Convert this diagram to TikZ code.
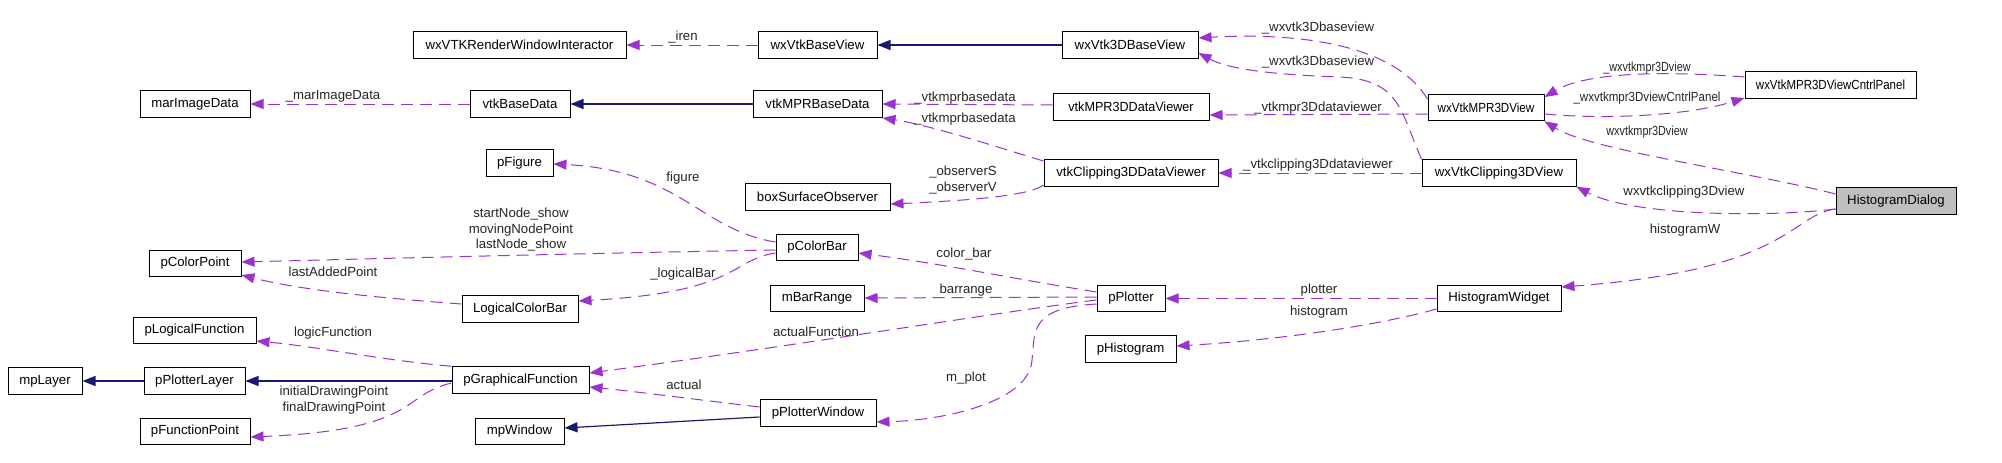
\documentclass[tikz,border=0pt]{standalone}
\usepackage{fontspec}
\usepackage{graphicx}
\setmainfont{Liberation Sans}
\usetikzlibrary{arrows.meta,calc}
\definecolor{usecol}{HTML}{9A32CD}
\definecolor{inhcol}{HTML}{191970}
\newcommand{\sqz}[2]{\scalebox{#1}[1]{#2}}
\begin{document}
\begin{tikzpicture}[x=1pt,y=-1pt,
  cls/.style={draw=black, line width=1pt, fill=white, minimum height=26.5pt, inner sep=0pt, font=\fontsize{13.2}{15.5}\selectfont},
  usage/.style={draw=usecol, line width=1pt, dash pattern=on 12pt off 7pt, -{Triangle[length=13pt,width=10pt]}},
  inher/.style={draw=inhcol, line width=1.2pt, -{Triangle[length=13pt,width=10pt]}},
  lbl/.style={font=\fontsize{13.2}{15.5}\selectfont, inner sep=0pt, text=black!85, align=center}]
\useasboundingbox[fill=white] (0,0) rectangle (2002,463);

% nodes
\node[cls,minimum width=110pt] (marImageData) at (195,104) {marImageData};
\node[cls,minimum width=100pt] (vtkBaseData) at (520,104) {vtkBaseData};
\node[cls,minimum width=129pt] (vtkMPRBaseData) at (817.5,104) {vtkMPRBaseData};
\node[cls,minimum width=213pt] (wxVTKRWI) at (519.5,45) {wxVTKRenderWindowInteractor};
\node[cls,minimum width=119pt] (wxVtkBaseView) at (817.5,45) {wxVtkBaseView};
\node[cls,minimum width=136pt] (wxVtk3DBaseView) at (1130,45) {wxVtk3DBaseView};
\node[cls,minimum width=156pt] (vtkMPR3DDataViewer) at (1131,107) {\sqz{0.955}{vtkMPR3DDataViewer}};
\node[cls,minimum width=116pt] (wxVtkMPR3DView) at (1486,107.5) {\sqz{0.88}{wxVtkMPR3DView}};
\node[cls,minimum width=171pt] (CntrlPanel) at (1830.5,85) {\sqz{0.87}{wxVtkMPR3DViewCntrlPanel}};
\node[cls,minimum width=67pt] (pFigure) at (519.5,163) {pFigure};
\node[cls,minimum width=145pt] (boxSurfaceObserver) at (817.5,197) {boxSurfaceObserver};
\node[cls,minimum width=174pt] (vtkClipping3DDataViewer) at (1131,173) {vtkClipping3DDataViewer};
\node[cls,minimum width=154pt] (wxVtkClipping3DView) at (1499,173) {wxVtkClipping3DView};
\node[cls,minimum width=120pt,fill=black!25] (HistogramDialog) at (1896,201) {HistogramDialog};
\node[cls,minimum width=92pt] (pColorPoint) at (195,263.5) {pColorPoint};
\node[cls,minimum width=82pt] (pColorBar) at (817,247.5) {pColorBar};
\node[cls,minimum width=116pt] (LogicalColorBar) at (520,309) {LogicalColorBar};
\node[cls,minimum width=94pt] (mBarRange) at (817,298.5) {mBarRange};
\node[cls,minimum width=68pt] (pPlotter) at (1131,298.5) {pPlotter};
\node[cls,minimum width=124pt] (HistogramWidget) at (1499,298.5) {HistogramWidget};
\node[cls,minimum width=91pt] (pHistogram) at (1130.5,349) {pHistogram};
\node[cls,minimum width=123pt] (pLogicalFunction) at (194.5,330.5) {pLogicalFunction};
\node[cls,minimum width=74pt] (mpLayer) at (45,381) {mpLayer};
\node[cls,minimum width=101pt] (pPlotterLayer) at (194.5,381) {pPlotterLayer};
\node[cls,minimum width=110pt] (pFunctionPoint) at (195,431.5) {pFunctionPoint};
\node[cls,minimum width=137pt] (pGraphicalFunction) at (520.5,380) {pGraphicalFunction};
\node[cls,minimum width=89pt] (mpWindow) at (519.5,431.5) {mpWindow};
\node[cls,minimum width=116pt] (pPlotterWindow) at (818,413) {pPlotterWindow};

% inheritance
\draw[inher] (wxVtk3DBaseView.west) -- (wxVtkBaseView.east);
\draw[inher] (vtkMPRBaseData.west) -- (vtkBaseData.east);
\draw[inher] (pPlotterLayer.west) -- (mpLayer.east);
\draw[inher] (pGraphicalFunction.west |- 0,381) -- (pPlotterLayer.east);
\draw[inher] (pPlotterWindow.west |- 0,417) -- (mpWindow.east |- 0,428);

% usage
\draw[usage] (wxVtkBaseView.west) -- (wxVTKRWI.east);
\draw[usage] (vtkBaseData.west) -- (marImageData.east);
\draw[usage] (vtkMPR3DDataViewer.west |- 0,105) -- (vtkMPRBaseData.east);
\draw[usage] (vtkClipping3DDataViewer.north west |- 0,161) .. controls (1000,148) and (930,125) .. (vtkMPRBaseData.south east |- 0,118);
\draw[usage] (wxVtkMPR3DView.north west |- 0,99) .. controls (1395,45) and (1300,32) .. (wxVtk3DBaseView.east |- 0,38);
\draw[usage] (wxVtkClipping3DView.north west) .. controls (1400,110) and (1400,80) .. (1340,77) .. controls (1280,75) and (1230,70) .. (wxVtk3DBaseView.east |- 0,53);
\draw[usage] (wxVtkMPR3DView.west |- 0,114) -- (vtkMPR3DDataViewer.east |- 0,115);
\draw[usage] (CntrlPanel.west |- 0,77) .. controls (1680,72) and (1590,70) .. (wxVtkMPR3DView.east |- 0,97);
\draw[usage] (wxVtkMPR3DView.east |- 0,114) .. controls (1610,120) and (1690,115) .. (CntrlPanel.west |- 0,98);
\draw[usage] (HistogramDialog.west |- 0,194) .. controls (1750,172) and (1590,150) .. (wxVtkMPR3DView.south east);
\draw[usage] (HistogramDialog.west |- 0,209) .. controls (1760,218) and (1630,215) .. (wxVtkClipping3DView.south east);
\draw[usage] (HistogramDialog.west |- 0,209) .. controls (1790,215) and (1790,270) .. (HistogramWidget.east |- 0,287);
\draw[usage] (wxVtkClipping3DView.west) -- (vtkClipping3DDataViewer.east);
\draw[usage] (vtkClipping3DDataViewer.south west |- 0,185) .. controls (1030,195) and (980,200) .. (boxSurfaceObserver.east |- 0,204);
\draw[usage] (pColorBar.west |- 0,242) .. controls (700,230) and (680,170) .. (pFigure.east |- 0,164);
\draw[usage] (pColorBar.west |- 0,250) .. controls (600,253) and (400,258) .. (pColorPoint.east |- 0,262);
\draw[usage] (pColorBar.west |- 0,253) .. controls (730,260) and (740,292) .. (LogicalColorBar.east |- 0,301);
\draw[usage] (LogicalColorBar.west |- 0,304) .. controls (380,298) and (300,290) .. (pColorPoint.east |- 0,275);
\draw[usage] (pPlotter.west |- 0,292) .. controls (1020,280) and (950,265) .. (pColorBar.east |- 0,253);
\draw[usage] (pPlotter.west |- 0,297) -- (mBarRange.east |- 0,298);
\draw[usage] (pPlotter.west |- 0,300) .. controls (1000,312) and (800,345) .. (pGraphicalFunction.east |- 0,373);
\draw[usage] (pPlotter.west |- 0,304) .. controls (1030,308) and (1035,330) .. (1032,360) .. controls (1030,400) and (950,420) .. (pPlotterWindow.east |- 0,422);
\draw[usage] (HistogramWidget.west) -- (pPlotter.east);
\draw[usage] (HistogramWidget.west |- 0,309) .. controls (1380,325) and (1280,340) .. (pHistogram.east |- 0,346);
\draw[usage] (pGraphicalFunction.north west) .. controls (380,360) and (320,347) .. (pLogicalFunction.east |- 0,341);
\draw[usage] (pGraphicalFunction.west |- 0,383) .. controls (400,395) and (420,430) .. (pFunctionPoint.east |- 0,437);
\draw[usage] (pPlotterWindow.west |- 0,407) .. controls (700,400) and (640,392) .. (pGraphicalFunction.east |- 0,387);

% labels
\node[lbl] (l1) at (683,37) {\_iren};
\node[lbl] (l2) at (333,96) {\_marImageData};
\node[lbl] (l3) at (1318,28) {\_wxvtk3Dbaseview};
\node[lbl] (l4) at (1318,62) {\_wxvtk3Dbaseview};
\node[lbl] (l5) at (965,98) {\_vtkmprbasedata};
\node[lbl] (l6) at (965,119) {\_vtkmprbasedata};
\node[lbl] (l7) at (1318,108) {\_vtkmpr3Ddataviewer};
\node[lbl] (l8) at (1647,68) {\sqz{0.82}{\_wxvtkmpr3Dview}};
\node[lbl] (l9) at (1647,98) {\sqz{0.875}{\_wxvtkmpr3DviewCntrlPanel}};
\node[lbl] (l10) at (1647,132) {\sqz{0.82}{wxvtkmpr3Dview}};
\node[lbl] (l11) at (683,178) {figure};
\node[lbl] (l12) at (963,180) {\_observerS\\\_observerV};
\node[lbl] (l13) at (521,230) {startNode\_show\\movingNodePoint\\lastNode\_show};
\node[lbl] (l14) at (333,272) {lastAddedPoint};
\node[lbl] (l15) at (683,274) {\_logicalBar};
\node[lbl] (l16) at (964,254) {color\_bar};
\node[lbl] (l17) at (966,290) {barrange};
\node[lbl] (l18) at (1318,165) {\_vtkclipping3Ddataviewer};
\node[lbl] (l19) at (1684,192) {wxvtkclipping3Dview};
\node[lbl] (l20) at (1685,230) {histogramW};
\node[lbl] (l21) at (1319,290) {plotter};
\node[lbl] (l22) at (1319,312) {histogram};
\node[lbl] (l23) at (333,333) {logicFunction};
\node[lbl] (l24) at (334,400) {initialDrawingPoint\\finalDrawingPoint};
\node[lbl] (l25) at (816,332) {actualFunction};
\node[lbl] (l26) at (684,385) {actual};
\node[lbl] (l27) at (966,378) {m\_plot};
\end{tikzpicture}
\end{document}
